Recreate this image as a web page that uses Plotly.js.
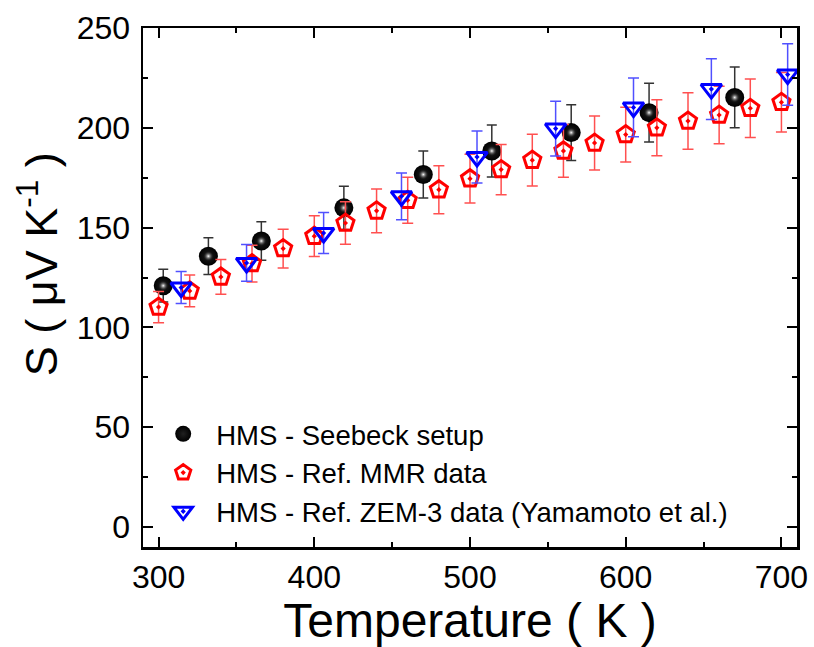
<!DOCTYPE html>
<html>
<head>
<meta charset="utf-8">
<script src="https://cdn.plot.ly/plotly-3.0.1.min.js"></script>
<style>html,body{margin:0;padding:0;background:#fff;}#chart{width:814px;height:647px;}</style>
</head>
<body>
<div id="chart"></div>
<script>
// Seebeck setup (black spheres)
const seebeckT = [303, 332, 366, 419, 470, 514, 565, 615, 670];
const seebeckS = [120.9, 135.7, 143.3, 159.9, 176.6, 188.4, 197.6, 207.6, 215.2];
const seebeckErr = [8.2, 9.2, 9.6, 10.8, 11.8, 13.0, 14.0, 14.7, 15.2];

// Ref. MMR data (red pentagons)
const mmrT = [300, 320, 340, 360, 380, 400, 420, 440, 460, 480, 500, 520, 540, 560, 580, 600, 620, 640, 660, 680, 700];
const mmrS = [110.2, 118.3, 125.3, 132.0, 139.5, 145.7, 152.3, 158.4, 163.7, 169.0, 174.5, 179.1, 183.8, 188.4, 192.4, 196.6, 200.0, 203.4, 206.4, 209.8, 212.8];
const mmrErr = [7.8, 8.0, 8.7, 9.2, 9.7, 10.2, 10.6, 11.0, 11.5, 12.0, 12.2, 12.6, 13.0, 13.2, 13.5, 13.7, 14.0, 14.2, 14.4, 14.7, 14.9];

// Ref. ZEM-3 data (blue triangles)
const zemT = [314.5, 356.5, 406, 456, 504.5, 555, 605, 655, 704];
const zemS = [120.0, 132.3, 147.3, 165.7, 185.4, 199.6, 210.2, 219.4, 226.7];
const zemErr = [8.0, 9.2, 10.3, 11.7, 13.0, 13.7, 14.7, 15.2, 15.4];

const names = ['HMS - Seebeck setup', 'HMS - Ref. MMR data', 'HMS - Ref. ZEM-3 data (Yamamoto et al.)'];
const xTitle = 'Temperature ( K )';
const yTitle = 'S ( μV K<sup>-1</sup> )';

const FONT = 'Liberation Sans, Arial, sans-serif';

const traces = [
  {
    x: seebeckT, y: seebeckS, type: 'scatter', mode: 'markers', name: names[0],
    error_y: {type: 'data', array: seebeckErr, visible: true, color: '#333333', thickness: 1.5, width: 5},
    marker: {symbol: 'circle', size: 19, color: '#000000', line: {width: 0},
             gradient: {type: 'radial', color: '#202020'}}
  },
  {
    x: seebeckT, y: seebeckS, type: 'scatter', mode: 'markers', showlegend: false, hoverinfo: 'skip',
    marker: {symbol: 'circle', size: 10, color: 'rgba(40,40,40,0)', line: {width: 0},
             gradient: {type: 'radial', color: '#ffffff'}}
  },
  {
    x: mmrT, y: mmrS, type: 'scatter', mode: 'markers', name: names[1],
    error_y: {type: 'data', array: mmrErr, visible: true, color: '#ff5050', thickness: 1.5, width: 5.5},
    marker: {symbol: 'pentagon-open-dot', size: 18, color: '#ff0000', line: {width: 3, color: '#ff0000'}}
  },
  {
    x: zemT, y: zemS, type: 'scatter', mode: 'markers', name: names[2],
    error_y: {type: 'data', array: zemErr, visible: true, color: '#5050ff', thickness: 1.5, width: 5.5},
    marker: {symbol: 'triangle-down-open-dot', size: 18, color: '#0000ff', line: {width: 3, color: '#0000ff'}}
  }
];

const layout = {
  width: 814, height: 647,
  margin: {l: 143, r: 17, t: 28, b: 100},
  paper_bgcolor: '#ffffff', plot_bgcolor: '#ffffff',
  font: {family: FONT, color: '#000000'},
  showlegend: true,
  legend: {
    x: 0.011, y: 0.265, xanchor: 'left', yanchor: 'top',
    bgcolor: 'rgba(0,0,0,0)', borderwidth: 0,
    itemwidth: 56,
    font: {family: FONT, size: 27.5, color: '#000000'},
    tracegroupgap: 0
  },
  xaxis: {
    range: [290, 710],
    tickvals: [300, 400, 500, 600, 700],
    ticks: 'inside', ticklen: 10, tickwidth: 2, tickcolor: '#000',
    minor: {tickvals: [350, 450, 550, 650], ticks: 'inside', ticklen: 5, tickwidth: 2, tickcolor: '#000'},
    showline: true, linewidth: 2.5, linecolor: '#000', mirror: 'allticks',
    showgrid: false, zeroline: false,
    tickfont: {family: FONT, size: 32, color: '#000'},
    title: {text: xTitle, font: {family: FONT, size: 48, color: '#000'}, standoff: 6}
  },
  yaxis: {
    range: [-10, 250],
    tickvals: [0, 50, 100, 150, 200, 250],
    ticks: 'inside', ticklen: 10, tickwidth: 2, tickcolor: '#000',
    minor: {tickvals: [25, 75, 125, 175, 225], ticks: 'inside', ticklen: 5, tickwidth: 2, tickcolor: '#000'},
    showline: true, linewidth: 2.5, linecolor: '#000', mirror: 'allticks',
    showgrid: false, zeroline: false,
    ticklabelstandoff: 4,
    tickfont: {family: FONT, size: 32, color: '#000'}
  },
  annotations: [{
    text: yTitle, xref: 'paper', yref: 'paper', x: 0, y: 0.545,
    xanchor: 'center', yanchor: 'middle', xshift: -105, textangle: -90, showarrow: false,
    font: {family: FONT, size: 45, color: '#000'}
  }]
};

Plotly.newPlot('chart', traces, layout, {displayModeBar: false, staticPlot: true});
</script>
</body>
</html>
